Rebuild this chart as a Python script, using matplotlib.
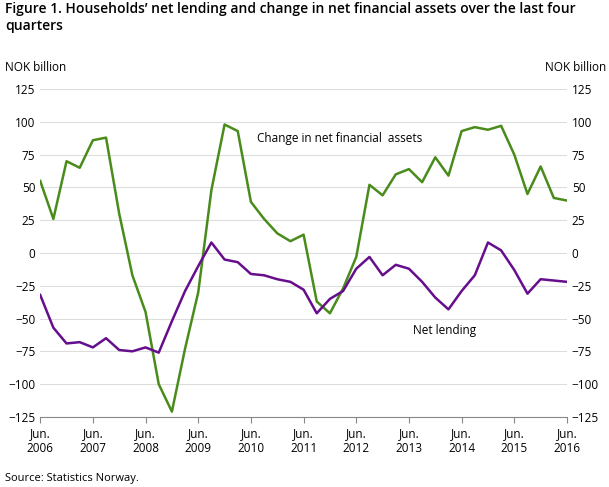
import matplotlib.pyplot as plt

plt.rcParams['font.family'] = ['Open Sans', 'DejaVu Sans']

years = list(range(2006, 2017))
tick_labels = ['Jun.\n%d' % y for y in years]

financial_assets = [55, 26, 70, 65, 86, 88, 30, -17, -45, -100, -121, -73, -30, 48, 98, 93,
                    39, 26, 15, 9, 14, -37, -46, -27, -3, 52, 44, 60, 64, 54, 73, 59,
                    93, 96, 94, 97, 75, 45, 66, 42, 40]
net_lending = [-32, -57, -69, -68, -72, -65, -74, -75, -72, -76, -52, -29, -10, 8, -5, -7,
               -16, -17, -20, -22, -28, -46, -35, -29, -12, -3, -17, -9, -12, -22, -34, -43,
               -29, -17, 8, 2, -13, -31, -20, -21, -22]

green = '#4a8c1c'
purple = '#660e8c'

fig = plt.figure(figsize=(6.09, 4.87), dpi=100)
ax = fig.add_axes([0.066, 0.144, 0.865, 0.673])
x = range(len(net_lending))
ax.plot(x, financial_assets, color=green, lw=1.8)
ax.plot(x, net_lending, color=purple, lw=1.8)

ax.set_xlim(0, len(x) - 1)
ax.set_ylim(-125, 125)
yt = list(range(-125, 126, 25))
ax.set_yticks(yt)
ax.set_xticks(range(0, len(x), 4))
ax.set_xticklabels(tick_labels, fontsize=8.5)
ax.tick_params(axis='y', labelsize=8.5, length=0, labelright=True)
ax.tick_params(axis='x', length=4, color='#888888')
ax.grid(axis='y', color='#dddddd', lw=0.8)
ax.set_axisbelow(True)
for s in ['top', 'left', 'right']:
    ax.spines[s].set_visible(False)
ax.spines['bottom'].set_color('#888888')

ax.text(16.5, 85, 'Change in net financial  assets', fontsize=8.5)
ax.text(28.3, -62, 'Net lending', fontsize=8.5)

fig.text(0.008, 0.995, 'Figure 1. Households\u2019 net lending and change in net financial assets over the last four\nquarters',
         fontsize=10, fontweight='semibold', va='top', linespacing=1.25)
fig.text(0.008, 0.855, 'NOK billion', fontsize=8.5)
fig.text(0.995, 0.855, 'NOK billion', fontsize=8.5, ha='right')
fig.text(0.008, 0.012, 'Source: Statistics Norway.', fontsize=8)

fig.savefig('out.png', dpi=100)
